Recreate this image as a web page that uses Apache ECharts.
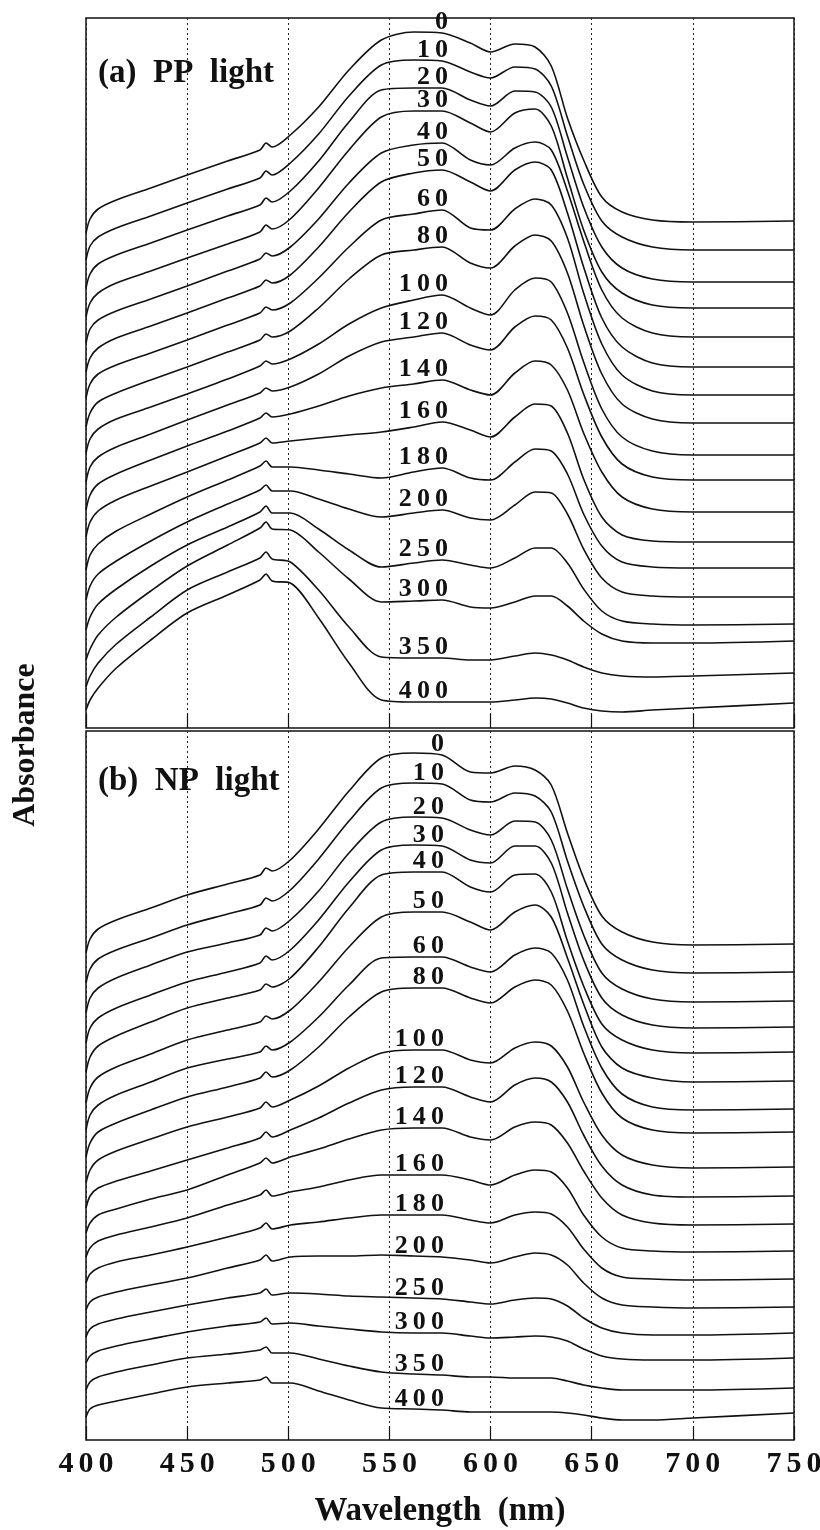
<!DOCTYPE html>
<html><head><meta charset="utf-8">
<script src="https://cdn.jsdelivr.net/npm/echarts@6/dist/echarts.min.js"></script>
<style>html,body{margin:0;padding:0;background:#fff}#c{width:820px;height:1530px}</style>
</head><body><div id="c"></div>
<script>
// Wavelength sample points (nm)
const wavelengths = [400, 402, 406, 415, 432, 450, 470, 486, 489, 492, 501, 515, 530, 546, 562, 576, 590, 600, 612, 622, 630, 638, 646, 655, 665, 680, 700, 750];
// Irradiation times (curve labels)
const exposureTimes = ['0', '10', '20', '30', '40', '50', '60', '80', '100', '120', '140', '160', '180', '200', '250', '300', '350', '400'];
// x tick labels
const xTickValues = [400, 450, 500, 550, 600, 650, 700, 750];

// (a) PP light — stacked absorbance (arbitrary offset units)
const pp0   = [495, 509, 519, 528, 540, 553, 567, 578, 585, 581, 593, 621, 658, 688, 696, 695, 685, 676, 684, 681, 662, 610, 568, 531, 516, 508, 506, 507];
const pp10  = [468, 482, 491, 500, 512, 525, 539, 550, 557, 553, 565, 594, 632, 663, 668, 667, 656, 650, 661, 659, 642, 592, 544, 507, 491, 481, 478, 478];
const pp20  = [440, 454, 464, 473, 485, 498, 512, 523, 530, 526, 537, 567, 606, 638, 640, 640, 628, 622, 637, 636, 621, 571, 521, 481, 460, 449, 446, 446];
const pp30  = [411, 425, 435, 445, 457, 470, 484, 496, 503, 499, 509, 540, 578, 611, 617, 617, 605, 596, 615, 619, 602, 550, 498, 456, 435, 423, 420, 420];
const pp40  = [385, 399, 408, 417, 429, 442, 457, 469, 475, 472, 481, 509, 545, 575, 583, 585, 568, 563, 580, 586, 578, 537, 487, 438, 410, 395, 391, 391];
const pp50  = [356, 370, 380, 390, 402, 415, 430, 442, 448, 445, 453, 481, 516, 546, 555, 558, 546, 537, 558, 566, 558, 515, 461, 410, 381, 365, 361, 361];
const pp60  = [330, 344, 354, 363, 375, 388, 403, 415, 421, 418, 425, 450, 481, 508, 514, 518, 500, 498, 519, 529, 523, 490, 435, 384, 353, 337, 333, 333];
const pp80  = [301, 315, 326, 335, 348, 361, 376, 388, 394, 391, 397, 420, 449, 473, 478, 481, 465, 460, 482, 493, 487, 455, 403, 354, 324, 309, 305, 305];
const pp100 = [275, 289, 299, 309, 321, 334, 349, 362, 367, 364, 369, 384, 404, 420, 428, 433, 420, 413, 438, 450, 446, 415, 366, 319, 291, 277, 273, 273];
const pp120 = [246, 261, 271, 281, 294, 308, 323, 335, 340, 337, 341, 354, 372, 386, 391, 395, 383, 378, 401, 412, 408, 380, 334, 291, 264, 251, 248, 248];
const pp140 = [218, 233, 244, 254, 268, 282, 297, 310, 315, 311, 314, 322, 332, 340, 344, 348, 338, 333, 355, 367, 363, 338, 295, 256, 231, 219, 216, 216];
const pp160 = [191, 206, 217, 228, 242, 256, 272, 285, 290, 285, 287, 290, 293, 296, 301, 306, 298, 291, 311, 324, 322, 295, 249, 211, 193, 187, 186, 186];
const pp180 = [158, 173, 184, 197, 214, 231, 248, 262, 267, 261, 261, 258, 254, 250, 256, 260, 250, 248, 266, 279, 277, 254, 214, 182, 166, 161, 160, 160];
const pp200 = [128, 142, 154, 167, 187, 206, 224, 238, 243, 237, 237, 229, 219, 211, 215, 218, 210, 208, 223, 236, 235, 214, 179, 150, 136, 132, 131, 131];
const pp250 = [98, 111, 124, 139, 162, 183, 201, 216, 222, 215, 215, 199, 178, 161, 165, 168, 163, 160, 170, 180, 180, 165, 139, 117, 107, 104, 103, 104];
const pp300 = [68, 79, 93, 111, 137, 162, 183, 200, 206, 199, 198, 176, 149, 126, 127, 128, 121, 120, 126, 132, 132, 122, 107, 94, 87, 85, 85, 87];
const pp350 = [41, 52, 65, 84, 111, 138, 156, 170, 176, 169, 166, 138, 101, 71, 70, 70, 68, 68, 72, 75, 73, 68, 61, 55, 52, 51, 52, 55];
const pp400 = [18, 28, 40, 60, 88, 115, 133, 148, 154, 147, 145, 110, 65, 28, 26, 26, 26, 26, 28, 30, 29, 25, 20, 17, 16, 18, 20, 25];

// (b) NP light — stacked absorbance (arbitrary offset units)
const np0   = [487, 501, 511, 520, 532, 545, 556, 565, 572, 569, 580, 611, 649, 682, 687, 685, 668, 667, 674, 670, 655, 607, 562, 524, 508, 498, 495, 496];
const np10  = [457, 471, 481, 490, 502, 515, 526, 535, 542, 539, 550, 581, 619, 652, 657, 656, 640, 638, 647, 644, 628, 579, 534, 496, 480, 470, 467, 468];
const np20  = [427, 442, 452, 462, 475, 488, 497, 505, 512, 509, 520, 549, 587, 618, 623, 622, 610, 605, 619, 618, 600, 551, 505, 467, 451, 441, 438, 439];
const np30  = [397, 412, 422, 432, 445, 458, 468, 477, 484, 480, 490, 520, 558, 590, 595, 594, 580, 577, 594, 594, 577, 527, 480, 442, 425, 415, 412, 413];
const np40  = [368, 383, 394, 404, 418, 432, 442, 450, 456, 453, 462, 493, 532, 565, 568, 568, 553, 548, 565, 566, 548, 499, 454, 416, 400, 390, 387, 388];
const np50  = [337, 352, 363, 373, 386, 400, 410, 418, 424, 421, 430, 458, 493, 523, 528, 528, 518, 510, 528, 535, 523, 482, 436, 393, 372, 362, 358, 359];
const np60  = [310, 325, 335, 345, 358, 372, 381, 388, 394, 390, 398, 423, 455, 482, 483, 483, 473, 468, 485, 492, 487, 460, 414, 372, 346, 333, 330, 331];
const np80  = [283, 297, 308, 317, 330, 343, 353, 362, 368, 363, 370, 393, 423, 448, 452, 452, 442, 437, 453, 460, 455, 429, 387, 347, 322, 310, 307, 308];
const np100 = [257, 270, 280, 289, 301, 313, 323, 332, 338, 333, 340, 354, 372, 387, 390, 390, 380, 377, 392, 398, 394, 373, 338, 305, 285, 275, 272, 273];
const np120 = [232, 244, 252, 259, 269, 280, 292, 302, 308, 303, 310, 322, 337, 350, 353, 353, 343, 338, 355, 362, 358, 338, 305, 274, 255, 245, 243, 244];
const np140 = [207, 217, 225, 231, 241, 250, 265, 277, 282, 277, 283, 291, 301, 310, 312, 312, 303, 300, 313, 318, 315, 297, 269, 242, 225, 217, 215, 216];
const np160 = [183, 192, 199, 205, 213, 222, 235, 245, 250, 244, 248, 253, 260, 265, 265, 265, 260, 255, 265, 270, 268, 252, 225, 203, 192, 189, 188, 189];
const np180 = [157, 166, 172, 178, 185, 193, 203, 212, 217, 211, 215, 218, 222, 225, 225, 225, 220, 217, 225, 228, 226, 213, 191, 172, 163, 161, 160, 161];
const np200 = [130, 138, 143, 148, 155, 162, 172, 180, 185, 179, 183, 184, 184, 185, 184, 183, 180, 177, 183, 187, 185, 175, 157, 142, 135, 133, 132, 133];
const np250 = [103, 111, 116, 121, 128, 135, 142, 147, 151, 145, 147, 146, 144, 143, 142, 141, 138, 136, 140, 142, 141, 134, 122, 112, 107, 105, 105, 107];
const np300 = [77, 84, 89, 94, 101, 108, 114, 118, 122, 116, 117, 114, 111, 108, 107, 107, 104, 102, 103, 104, 103, 99, 91, 84, 81, 80, 80, 82];
const np350 = [50, 58, 63, 68, 75, 82, 86, 90, 93, 87, 87, 81, 74, 68, 66, 65, 63, 63, 62, 62, 62, 59, 55, 52, 50, 50, 50, 52];
const np400 = [23, 31, 35, 39, 46, 53, 57, 60, 63, 57, 57, 49, 40, 32, 31, 30, 28, 28, 28, 28, 28, 27, 25, 22, 20, 20, 22, 27];

const ppCurves = [pp0, pp10, pp20, pp30, pp40, pp50, pp60, pp80, pp100, pp120, pp140, pp160, pp180, pp200, pp250, pp300, pp350, pp400];
const npCurves = [np0, np10, np20, np30, np40, np50, np60, np80, np100, np120, np140, np160, np180, np200, np250, np300, np350, np400];

const SERIF = "'Liberation Serif', 'Times New Roman', serif";
const INK = '#111';
const spaced = (s, sp) => String(s).split('').join(sp || '\u2009');
const labelAtIdx = wavelengths.indexOf(576);

function curveSeries(curves, gi) {
  return curves.map((vals, i) => ({
    type: 'line', xAxisIndex: gi, yAxisIndex: gi,
    name: (gi === 0 ? 'PP ' : 'NP ') + exposureTimes[i],
    data: wavelengths.map((w, k) => [w, vals[k]]),
    showSymbol: false, symbol: 'none', smooth: 0.3, silent: true,
    lineStyle: { color: INK, width: 1.6 }
  }));
}
function labelSeries(curves, gi, labelWave) {
  return {
    type: 'scatter', xAxisIndex: gi, yAxisIndex: gi, silent: true, z: 5,
    symbolSize: 1, itemStyle: { color: 'rgba(0,0,0,0)', opacity: 1 },
    data: curves.map((vals, i) => ({ name: exposureTimes[i], value: [labelWave, vals[labelAtIdx]] })),
    label: {
      show: true, position: 'top', align: 'right', distance: -3, opacity: 1,
      formatter: p => spaced(p.name),
      fontFamily: SERIF, fontWeight: 'bold', fontSize: 26, color: INK
    }
  };
}
const xBase = gi => ({
  gridIndex: gi, type: 'value', min: 400, max: 750, interval: 50,
  axisLine: { show: false },
  axisTick: { show: true, inside: true, length: 14, lineStyle: { color: INK, width: 1.2 } },
  axisLabel: { show: false },
  splitLine: { show: true, lineStyle: { color: '#222', type: [2, 3], width: 1 } }
});
const gridBase = { left: 86, width: 708, containLabel: false, outerBoundsMode: 'none' };

const chart = echarts.init(document.getElementById('c'), null, { renderer: 'canvas' });
chart.setOption({
  animation: false,
  backgroundColor: '#fff',
  title: [
    { text: '(a)  PP  light', left: 98, top: 57, padding: 0,
      textStyle: { fontFamily: SERIF, fontWeight: 'bold', fontSize: 33, color: INK } },
    { text: '(b)  NP  light', left: 98, top: 765, padding: 0,
      textStyle: { fontFamily: SERIF, fontWeight: 'bold', fontSize: 33, color: INK } }
  ],
  grid: [
    Object.assign({ top: 18, height: 710, show: true, borderColor: INK, borderWidth: 1.5 }, gridBase),
    Object.assign({ top: 731, height: 709, show: true, borderColor: INK, borderWidth: 1.5 }, gridBase),
    Object.assign({ top: 48, height: 1394, show: false }, gridBase)
  ],
  xAxis: [
    xBase(0),
    Object.assign(xBase(1), {
      axisLabel: { show: true, customValues: xTickValues, formatter: v => spaced(v, '\u2006'), margin: 9,
        fontFamily: SERIF, fontWeight: 'bold', fontSize: 30, color: INK },
      name: 'Wavelength  (nm)', nameLocation: 'middle', nameGap: 55,
      nameTextStyle: { fontFamily: SERIF, fontWeight: 'bold', fontSize: 33, color: INK }
    }),
    { gridIndex: 2, type: 'value', min: 400, max: 750, show: false }
  ],
  yAxis: [
    { gridIndex: 0, type: 'value', min: 0, max: 710, show: false },
    { gridIndex: 1, type: 'value', min: 0, max: 709, show: false },
    { gridIndex: 2, type: 'value', min: 0, max: 1,
      axisLine: { show: false }, axisTick: { show: false }, axisLabel: { show: false }, splitLine: { show: false },
      name: 'Absorbance', nameLocation: 'middle', nameRotate: 90, nameGap: 44,
      nameTextStyle: { fontFamily: SERIF, fontWeight: 'bold', fontSize: 32, color: INK } }
  ],
  series: [
    ...curveSeries(ppCurves, 0),
    ...curveSeries(npCurves, 1),
    labelSeries(ppCurves, 0, 579),
    labelSeries(npCurves, 1, 577)
  ]
});
</script></body></html>
